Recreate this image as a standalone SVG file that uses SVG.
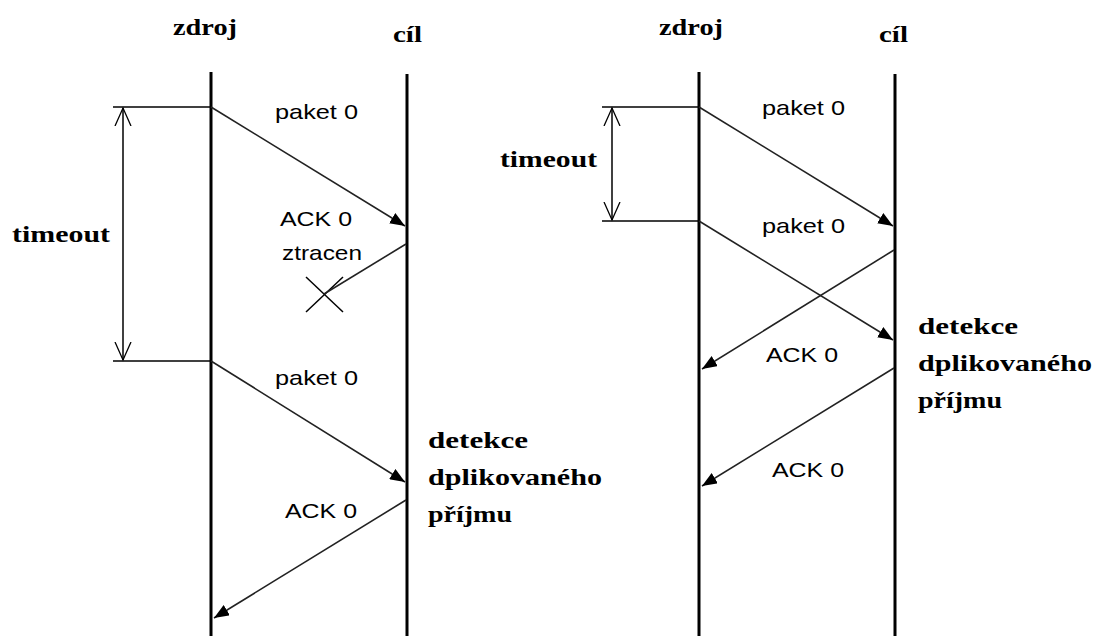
<svg xmlns="http://www.w3.org/2000/svg" width="1096" height="636" viewBox="0 0 1096 636">
<defs>
<marker id="ah" markerUnits="userSpaceOnUse" markerWidth="16" markerHeight="12" refX="15" refY="6" orient="auto">
<path d="M0,0 L15,6 L0,12 Z" fill="#000"/>
</marker>
<marker id="open" markerUnits="userSpaceOnUse" markerWidth="20" markerHeight="20" refX="18" refY="9" orient="auto-start-reverse">
<path d="M0,1 L18,9 L0,17" fill="none" stroke="#000" stroke-width="1.3"/>
</marker>
</defs>
<style>
.life{stroke:#000;stroke-width:3;fill:none}
.thin{stroke:#000;stroke-width:1.5;fill:none}
.msg{stroke:#222;stroke-width:1.6;fill:none}
.hdr{font-family:"Liberation Serif",serif;font-weight:bold;font-size:23px;fill:#000}
.lbl{font-family:"Liberation Sans",sans-serif;font-size:21px;fill:#000}
</style>
<rect width="1096" height="636" fill="#fff"/>

<g id="left-zdroj"><text class="hdr" x="173" y="35" textLength="64" lengthAdjust="spacingAndGlyphs">zdroj</text><line class="life" x1="211" y1="72" x2="211" y2="636"/></g>
<g id="left-cil"><text class="hdr" x="393" y="42" textLength="29" lengthAdjust="spacingAndGlyphs">cíl</text><line class="life" x1="407" y1="74" x2="407" y2="636"/></g>
<g id="left-timeout">
<line class="thin" x1="113" y1="107" x2="211" y2="107"/>
<line class="thin" x1="113" y1="361" x2="211" y2="361"/>
<line class="thin" x1="123" y1="108" x2="123" y2="360" marker-start="url(#open)" marker-end="url(#open)"/>
<text class="hdr" x="12" y="242" textLength="98" lengthAdjust="spacingAndGlyphs">timeout</text>
</g>
<g id="left-detekce">
<text class="hdr" x="428" y="448" textLength="100" lengthAdjust="spacingAndGlyphs">detekce</text>
<text class="hdr" x="428" y="485" textLength="174" lengthAdjust="spacingAndGlyphs">dplikovaného</text>
<text class="hdr" x="428" y="522" textLength="84" lengthAdjust="spacingAndGlyphs">příjmu</text>
</g>
<g id="left-loss">
<line class="thin" x1="306" y1="277" x2="343" y2="312"/>
<line class="thin" x1="343" y1="277" x2="306" y2="312"/>
</g>

<g id="right-zdroj"><text class="hdr" x="659" y="35" textLength="64" lengthAdjust="spacingAndGlyphs">zdroj</text><line class="life" x1="699" y1="72" x2="699" y2="636"/></g>
<g id="right-cil"><text class="hdr" x="879" y="42" textLength="29" lengthAdjust="spacingAndGlyphs">cíl</text><line class="life" x1="895" y1="74" x2="895" y2="636"/></g>
<g id="right-timeout">
<line class="thin" x1="602" y1="107" x2="699" y2="107"/>
<line class="thin" x1="602" y1="221" x2="699" y2="221"/>
<line class="thin" x1="612" y1="108" x2="612" y2="220" marker-start="url(#open)" marker-end="url(#open)"/>
<text class="hdr" x="500" y="167" textLength="97" lengthAdjust="spacingAndGlyphs">timeout</text>
</g>
<g id="right-detekce">
<text class="hdr" x="918" y="334" textLength="100" lengthAdjust="spacingAndGlyphs">detekce</text>
<text class="hdr" x="918" y="371" textLength="174" lengthAdjust="spacingAndGlyphs">dplikovaného</text>
<text class="hdr" x="918" y="408" textLength="84" lengthAdjust="spacingAndGlyphs">příjmu</text>
</g>

<g id="connectors">
<line class="msg" x1="211" y1="107" x2="405" y2="226" marker-end="url(#ah)"/>
<line class="msg" x1="406" y1="244" x2="324" y2="294"/>
<line class="msg" x1="211" y1="361" x2="405" y2="482" marker-end="url(#ah)"/>
<line class="msg" x1="406" y1="500" x2="214" y2="618" marker-end="url(#ah)"/>
<line class="msg" x1="699" y1="107" x2="893" y2="226" marker-end="url(#ah)"/>
<line class="msg" x1="699" y1="221" x2="893" y2="340" marker-end="url(#ah)"/>
<line class="msg" x1="894" y1="250" x2="702" y2="369" marker-end="url(#ah)"/>
<line class="msg" x1="894" y1="368" x2="702" y2="486" marker-end="url(#ah)"/>
</g>

<g id="labels">
<text class="lbl" x="275" y="119" textLength="83" lengthAdjust="spacingAndGlyphs">paket 0</text>
<text class="lbl" x="280" y="226" textLength="72" lengthAdjust="spacingAndGlyphs">ACK 0</text>
<text class="lbl" x="282" y="260" textLength="80" lengthAdjust="spacingAndGlyphs">ztracen</text>
<text class="lbl" x="275" y="385" textLength="83" lengthAdjust="spacingAndGlyphs">paket 0</text>
<text class="lbl" x="285" y="518" textLength="72" lengthAdjust="spacingAndGlyphs">ACK 0</text>
<text class="lbl" x="762" y="115" textLength="83" lengthAdjust="spacingAndGlyphs">paket 0</text>
<text class="lbl" x="762" y="233" textLength="83" lengthAdjust="spacingAndGlyphs">paket 0</text>
<text class="lbl" x="766" y="362" textLength="72" lengthAdjust="spacingAndGlyphs">ACK 0</text>
<text class="lbl" x="772" y="477" textLength="72" lengthAdjust="spacingAndGlyphs">ACK 0</text>
</g>
</svg>
